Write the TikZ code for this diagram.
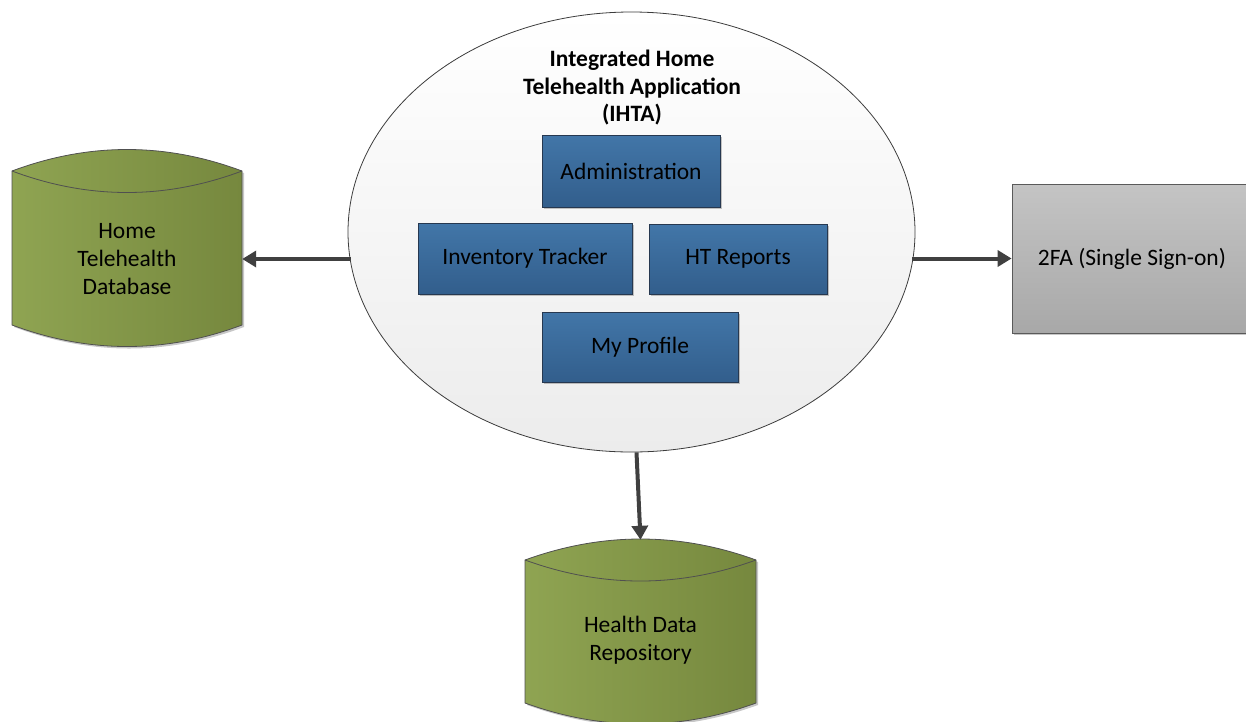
\documentclass[tikz,border=0pt]{standalone}
\usepackage{fontspec}
\setmainfont{Carlito}
\usetikzlibrary{arrows.meta,shapes.geometric,shadows}

\definecolor{dbleft}{RGB}{143,164,82}
\definecolor{dbright}{RGB}{118,136,62}
\definecolor{dbedge}{RGB}{80,80,80}
\definecolor{modtop}{RGB}{66,118,168}
\definecolor{modbot}{RGB}{50,94,140}
\definecolor{modedge}{RGB}{38,56,80}
\definecolor{ssotop}{RGB}{196,196,196}
\definecolor{ssobot}{RGB}{168,168,168}
\definecolor{ssoedge}{RGB}{90,90,90}
\definecolor{linkgray}{RGB}{64,64,64}
\definecolor{appedge}{RGB}{60,60,60}
\definecolor{appbot}{RGB}{236,236,236}

% Database drum: left x, right x, side top y, side bottom y, bulge of the arcs
\newcommand{\dbdrum}[5]{%
  \pgfmathsetmacro\drumxa{#1+(#2-#1)/3}%
  \pgfmathsetmacro\drumxb{#1+2*(#2-#1)/3}%
  \pgfmathsetmacro\drumtop{#3-4*#5/3}%
  \pgfmathsetmacro\drumlid{#3+4*#5/3}%
  \pgfmathsetmacro\drumbase{#4+4*#5/3}%
  \path[drum] (#1,#3) .. controls (\drumxa,\drumtop) and (\drumxb,\drumtop) .. (#2,#3)
     -- (#2,#4) .. controls (\drumxb,\drumbase) and (\drumxa,\drumbase) .. (#1,#4) -- cycle;
  \draw[drumedge] (#1,#3) .. controls (\drumxa,\drumlid) and (\drumxb,\drumlid) .. (#2,#3);
}

\begin{document}
\begin{tikzpicture}[x=1pt,y=-1pt,
  font=\fontsize{23.5}{28}\selectfont,
  softshadow/.style={drop shadow={shadow xshift=2pt,shadow yshift=-2pt,opacity=0.22,fill=black}},
  drum/.style={draw=dbedge,line width=0.8pt,left color=dbleft,right color=dbright,softshadow},
  drumedge/.style={draw=dbedge,line width=0.8pt},
  drumtext/.style={align=center,inner sep=0pt},
  module/.style={draw=modedge,line width=0.8pt,top color=modtop,bottom color=modbot,
    softshadow,inner sep=0pt,align=center},
  app/.style={ellipse,draw=appedge,line width=0.8pt,top color=white,bottom color=appbot,inner sep=0pt},
  extsys/.style={draw=ssoedge,line width=0.8pt,top color=ssotop,bottom color=ssobot,
    softshadow,inner sep=0pt,align=center},
  link/.style={draw=linkgray,line width=4pt,-{Triangle[length=14pt,width=16pt]}}]

\useasboundingbox (0,0) rectangle (1246,721);

% data stores
\dbdrum{12}{242}{171}{325}{21.5}
\node[drumtext,minimum width=230pt,minimum height=150pt] (hdb) at (127,259)
  {Home\\Telehealth\\Database};

\dbdrum{525}{756}{560}{703}{21}
\node[drumtext,minimum width=231pt,minimum height=200pt] (hdr) at (640.5,640)
  {Health Data\\Repository};

% application and its modules
\node[app,minimum width=567pt,minimum height=440pt] (ihta) at (631.5,232) {};
\node[font=\fontsize{23.5}{27.5}\selectfont\bfseries,align=center,inner sep=0pt] (ihtalabel)
  at (632,88) {Integrated Home\\Telehealth Application\\(IHTA)};

\node[module,minimum width=178pt,minimum height=72pt] (admin) at (631,171) {Administration};
\node[module,minimum width=214pt,minimum height=71pt] (inv) at (525,258.5) {Inventory Tracker};
\node[module,minimum width=178pt,minimum height=70pt] (rep) at (738,259) {HT Reports};
\node[module,minimum width=196pt,minimum height=70pt] (prof) at (640,347) {My Profile};

% external sign-on service
\node[extsys,minimum width=240pt,minimum height=149pt] (sso) at (1132,258.5) {2FA (Single Sign-on)};

% connections
\draw[link] ([xshift=3pt]ihta.west |- hdb.east) -- (hdb.east);
\draw[link] ([xshift=-3pt]ihta.east |- sso.west) -- (sso.west);
\draw[link] ([xshift=5pt]ihta.south) -- (hdr.north);

\end{tikzpicture}
\end{document}
